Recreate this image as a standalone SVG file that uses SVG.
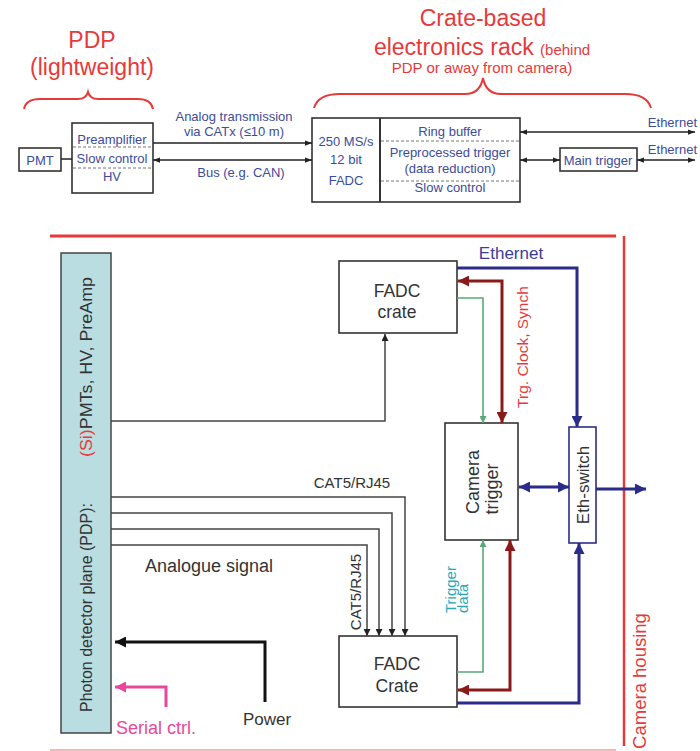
<svg xmlns="http://www.w3.org/2000/svg" width="700" height="751" viewBox="0 0 700 751">
<style>
.red{fill:#e8393a;font-family:"Liberation Sans",Arial,sans-serif}
.bt{fill:#3c4c9c;font-family:"Liberation Sans",Arial,sans-serif;font-size:13px}
.dk{fill:#333;font-family:"Liberation Sans",Arial,sans-serif}
.box{fill:#fff;stroke:#333;stroke-width:1.6}
.tl{fill:none;stroke:#222;stroke-width:1.5}
.dash{stroke:#777;stroke-width:1;stroke-dasharray:3,2}
.cat{fill:none;stroke:#444;stroke-width:1.5}
.navy{fill:none;stroke:#2b2b8a;stroke-width:3}
.dred{fill:none;stroke:#8a1a1a;stroke-width:3}
.grn{fill:none;stroke:#5aa878;stroke-width:1.6}
</style>
<defs>
<marker id="ab" viewBox="0 0 8 6" refX="8" refY="3" markerWidth="7" markerHeight="6" markerUnits="userSpaceOnUse" orient="auto-start-reverse"><path d="M0,0L8,3L0,6z" fill="#222"/></marker>
<marker id="an" viewBox="0 0 10 10" refX="10" refY="5" markerWidth="13" markerHeight="11" markerUnits="userSpaceOnUse" orient="auto-start-reverse"><path d="M0,0L10,5L0,10z" fill="#2b2b8a"/></marker>
<marker id="ar" viewBox="0 0 10 10" refX="10" refY="5" markerWidth="13" markerHeight="11" markerUnits="userSpaceOnUse" orient="auto-start-reverse"><path d="M0,0L10,5L0,10z" fill="#8a1a1a"/></marker>
<marker id="ag" viewBox="0 0 10 10" refX="10" refY="5" markerWidth="8" markerHeight="7" markerUnits="userSpaceOnUse" orient="auto-start-reverse"><path d="M0,0L10,5L0,10z" fill="#5aa878"/></marker>
<marker id="ak" viewBox="0 0 10 10" refX="10" refY="5" markerWidth="12" markerHeight="11" markerUnits="userSpaceOnUse" orient="auto-start-reverse"><path d="M0,0L10,5L0,10z" fill="#111"/></marker>
<marker id="ap" viewBox="0 0 10 10" refX="10" refY="5" markerWidth="12" markerHeight="11" markerUnits="userSpaceOnUse" orient="auto-start-reverse"><path d="M0,0L10,5L0,10z" fill="#e8489a"/></marker>
<marker id="ac" viewBox="0 0 10 10" refX="10" refY="5" markerWidth="7" markerHeight="7" markerUnits="userSpaceOnUse" orient="auto-start-reverse"><path d="M0,0L10,5L0,10z" fill="#222"/></marker>
</defs>

<!-- top: labels and braces -->
<g id="top-labels">
<text class="red" x="92" y="48" font-size="23" text-anchor="middle">PDP</text>
<text class="red" x="92" y="75" font-size="23" text-anchor="middle">(lightweight)</text>
<path d="M24,109 Q26,99 40,99 L78,99 Q86,99 88,92 Q90,99 98,99 L138,99 Q151,99 153,109" fill="none" stroke="#e8393a" stroke-width="2"/>
<text class="red" x="483" y="26" font-size="23" text-anchor="middle">Crate-based</text>
<text class="red" x="482" y="55" text-anchor="middle"><tspan font-size="23">electronics rack </tspan><tspan font-size="15">(behind</tspan></text>
<text class="red" x="482" y="73" font-size="15" text-anchor="middle">PDP or away from camera)</text>
<path d="M314,108 Q318,94 340,94 L465,94 Q480,94 483,78 Q486,94 501,94 L625,94 Q647,94 651,108" fill="none" stroke="#e8393a" stroke-width="2"/>
</g>

<g id="pmt">
<rect class="box" x="19" y="148" width="42" height="23"/>
<text class="bt" x="40" y="165" text-anchor="middle">PMT</text>
</g>
<g id="pdp-box">
<rect class="box" x="72" y="123" width="81" height="70" stroke-width="2"/>
<line class="dash" x1="73" y1="147" x2="152" y2="147"/>
<line class="dash" x1="73" y1="168" x2="152" y2="168"/>
<text class="bt" x="112" y="144" text-anchor="middle">Preamplifier</text>
<text class="bt" x="112" y="163" text-anchor="middle">Slow control</text>
<text class="bt" x="112" y="181" text-anchor="middle">HV</text>
</g>
<g id="crate-box">
<rect class="box" x="312" y="118" width="208" height="84" stroke-width="2"/>
<line x1="380" y1="118" x2="380" y2="202" stroke="#333" stroke-width="2"/>
<line class="dash" x1="381" y1="141" x2="519" y2="141"/>
<line class="dash" x1="381" y1="181" x2="519" y2="181"/>
<text class="bt" x="346" y="146" text-anchor="middle">250 MS/s</text>
<text class="bt" x="346" y="164" text-anchor="middle">12 bit</text>
<text class="bt" x="346" y="185" text-anchor="middle">FADC</text>
<text class="bt" x="450" y="136" text-anchor="middle">Ring buffer</text>
<text class="bt" x="450" y="157" text-anchor="middle">Preprocessed trigger</text>
<text class="bt" x="450" y="173" text-anchor="middle">(data reduction)</text>
<text class="bt" x="450" y="192" text-anchor="middle">Slow control</text>
</g>
<g id="main-trigger">
<rect class="box" x="560" y="148" width="77" height="23" stroke-width="2"/>
<text class="bt" x="598" y="165" text-anchor="middle">Main trigger</text>
</g>
<g id="top-connectors">
<line class="tl" x1="61" y1="159" x2="72" y2="159"/>
<line class="tl" x1="153" y1="143" x2="312" y2="143" marker-end="url(#ab)"/>
<line class="tl" x1="153" y1="160" x2="312" y2="160" marker-start="url(#ab)" marker-end="url(#ab)"/>
<line class="tl" x1="520" y1="132" x2="695" y2="132" marker-start="url(#ab)" marker-end="url(#ab)"/>
<line class="tl" x1="520" y1="160" x2="560" y2="160" marker-start="url(#ab)" marker-end="url(#ab)"/>
<line class="tl" x1="637" y1="160" x2="695" y2="160" marker-start="url(#ab)" marker-end="url(#ab)"/>
<text class="bt" x="234" y="121" text-anchor="middle">Analog transmission</text>
<text class="bt" x="234" y="136" text-anchor="middle">via CATx (≤10 m)</text>
<text class="bt" x="241" y="177" text-anchor="middle">Bus (e.g. CAN)</text>
<text class="bt" x="697" y="127" text-anchor="end">Ethernet</text>
<text class="bt" x="697" y="154" text-anchor="end">Ethernet</text>
</g>

<!-- bottom: housing -->
<g id="housing">
<line x1="50" y1="236" x2="616" y2="236" stroke="#e8393a" stroke-width="3"/>
<line x1="624" y1="236" x2="624" y2="746" stroke="#e8393a" stroke-width="2.5"/>
<line x1="50" y1="750" x2="616" y2="750" stroke="#f4a0a0" stroke-width="1.5"/>
<text class="red" font-size="18.5" text-anchor="middle" transform="translate(646,681) rotate(-90)">Camera housing</text>
</g>

<g id="pdp-plane">
<rect x="61" y="253" width="50" height="480" fill="#b9dde0" stroke="#444" stroke-width="1.5"/>
<text class="dk" font-size="16" transform="translate(92,712) rotate(-90)" fill="#222">Photon detector plane (PDP):</text>
<text class="dk" font-size="16.5" textLength="180" lengthAdjust="spacingAndGlyphs" transform="translate(92,457) rotate(-90)" fill="#222"><tspan fill="#e8393a">(Si)</tspan>PMTs, HV, PreAmp</text>
</g>

<g id="fadc-crate-top">
<rect class="box" x="339" y="261" width="118" height="72" stroke="#777"/>
<text class="dk" x="397" y="297" font-size="17.5" text-anchor="middle">FADC</text>
<text class="dk" x="397" y="318" font-size="17.5" text-anchor="middle">crate</text>
</g>
<g id="camera-trigger">
<rect class="box" x="445" y="423" width="73" height="117" stroke="#666"/>
<text class="dk" font-size="18" text-anchor="middle" transform="translate(479,482) rotate(-90)">Camera</text>
<text class="dk" font-size="18" text-anchor="middle" transform="translate(498,489) rotate(-90)">trigger</text>
</g>
<g id="eth-switch">
<rect x="569" y="427" width="27" height="116" fill="#fff" stroke="#2b2b8a" stroke-width="1.6"/>
<text class="dk" font-size="17" text-anchor="middle" transform="translate(589,485) rotate(-90)">Eth-switch</text>
</g>
<g id="fadc-crate-bottom">
<rect class="box" x="339" y="636" width="118" height="71" stroke="#555"/>
<text class="dk" x="397" y="670" font-size="17.5" text-anchor="middle">FADC</text>
<text class="dk" x="397" y="692" font-size="17.5" text-anchor="middle">Crate</text>
</g>

<g id="connectors">
<polyline class="cat" points="111,421 385,421 385,334" marker-end="url(#ac)"/>
<polyline class="cat" points="111,497 405,497 405,636" marker-end="url(#ac)"/>
<polyline class="cat" points="111,513 392,513 392,636" marker-end="url(#ac)"/>
<polyline class="cat" points="111,529 379,529 379,636" marker-end="url(#ac)"/>
<polyline class="cat" points="111,545 367,545 367,636" marker-end="url(#ac)"/>
<polyline class="navy" points="457,268 577,268 577,427" marker-end="url(#an)"/>
<polyline class="dred" points="458,281 502,281 502,423" marker-start="url(#ar)" marker-end="url(#ar)"/>
<polyline class="grn" points="457,298 483,298 483,423" marker-end="url(#ag)"/>
<line class="navy" x1="519" y1="487" x2="569" y2="487" marker-start="url(#an)" marker-end="url(#an)"/>
<line class="navy" x1="596" y1="489" x2="646" y2="489" marker-end="url(#an)"/>
<polyline class="grn" points="457,672 483,672 483,540" marker-end="url(#ag)"/>
<polyline class="dred" points="458,690 510,690 510,540" marker-start="url(#ar)" marker-end="url(#ar)"/>
<polyline class="navy" points="457,703 579,703 579,543" marker-end="url(#an)"/>
<polyline points="265,702 265,642 115,642" fill="none" stroke="#111" stroke-width="3" marker-end="url(#ak)"/>
<polyline points="166,707 166,687 115,687" fill="none" stroke="#e8489a" stroke-width="3" marker-end="url(#ap)"/>
<text x="511" y="259" font-size="17" text-anchor="middle" fill="#3c3c9a" font-family="Liberation Sans, Arial, sans-serif">Ethernet</text>
<text class="red" font-size="15.5" text-anchor="middle" transform="translate(528,347) rotate(-90)">Trg. Clock, Synch</text>
<text font-size="15" fill="#2aa8b8" font-family="Liberation Sans, Arial, sans-serif" transform="translate(456,613) rotate(-90)">Trigger</text>
<text font-size="15" fill="#2aa8b8" font-family="Liberation Sans, Arial, sans-serif" transform="translate(468,613) rotate(-90)">data</text>
<text class="dk" x="352" y="488" font-size="15" text-anchor="middle">CAT5/RJ45</text>
<text class="dk" font-size="15" text-anchor="middle" transform="translate(361,592) rotate(-90)">CAT5/RJ45</text>
<text class="dk" x="209" y="572" font-size="18" text-anchor="middle">Analogue signal</text>
<text class="dk" x="267" y="725" font-size="17" text-anchor="middle" fill="#222">Power</text>
<text x="156" y="734" font-size="18" text-anchor="middle" fill="#e8489a" font-family="Liberation Sans, Arial, sans-serif">Serial ctrl.</text>
</g>
</svg>
